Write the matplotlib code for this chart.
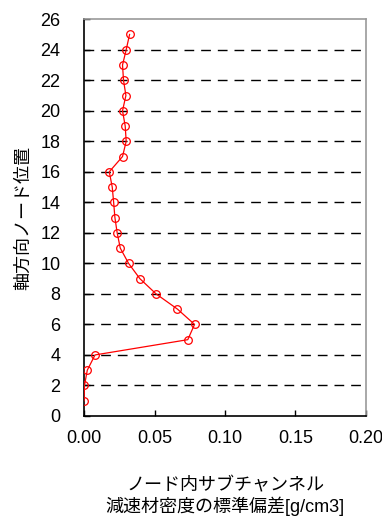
import matplotlib
matplotlib.use('Agg')
import matplotlib.pyplot as plt

plt.rcParams['font.family'] = ['Liberation Sans', 'Noto Sans CJK JP', 'DejaVu Sans']

# 軸方向ノード位置と標準偏差
nodes = [1, 2, 3, 4, 5, 6, 7, 8, 9, 10, 11, 12, 13,
         14, 15, 16, 17, 18, 19, 20, 21, 22, 23, 24, 25]
std_dev = [0.0000, 0.0003, 0.0023, 0.0078, 0.0736, 0.0784, 0.0663, 0.0511, 0.0396, 0.0316,
           0.0257, 0.0235, 0.0219, 0.0210, 0.0200, 0.0179, 0.0273, 0.0299, 0.0292, 0.0273,
           0.0297, 0.0280, 0.0273, 0.0299, 0.0323]

x_ticks = [0.00, 0.05, 0.10, 0.15, 0.20]
y_ticks = list(range(0, 27, 2))

fig = plt.figure(figsize=(3.82, 5.19), dpi=100)
ax = fig.add_axes([0.22, 0.1985, 0.738, 0.7645])

for y in y_ticks[1:-1]:
    ax.axhline(y, color='black', lw=1.0, ls=(0, (7, 5)), zorder=1)

ax.plot(std_dev, nodes, color='red', lw=0.9, marker='o', markersize=5.5,
        markerfacecolor='none', markeredgecolor='red', markeredgewidth=0.9, zorder=3)

ax.set_xlim(0, 0.20)
ax.set_ylim(0, 26)
ax.set_xticks(x_ticks)
ax.set_xticklabels(['%.2f' % v for v in x_ticks])
ax.set_yticks(y_ticks)

ax.tick_params(direction='in', length=4, width=1, labelsize=13, colors='black')
ax.tick_params(axis='x', pad=10)
ax.tick_params(axis='y', pad=17)

for s in ['left', 'bottom']:
    ax.spines[s].set_color('black')
    ax.spines[s].set_linewidth(1.2)
for s in ['top', 'right']:
    ax.spines[s].set_color('#999999')
    ax.spines[s].set_linewidth(1.2)

ax.set_xlabel('ノード内サブチャンネル\n減速材密度の標準偏差[g/cm3]', fontsize=13,
              labelpad=22, linespacing=1.1)
ax.set_ylabel('軸方向ノード位置', fontsize=13, labelpad=6)

fig.savefig('out.png', dpi=100)
